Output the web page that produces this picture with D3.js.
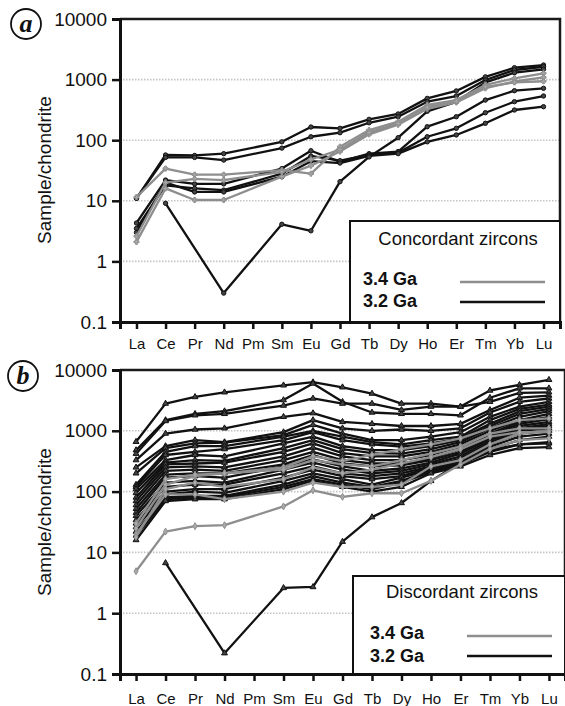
<!DOCTYPE html>
<html>
<head>
<meta charset="utf-8">
<script src="https://cdn.jsdelivr.net/npm/d3@7"></script>
<style>
body { margin: 0; background: #fff; }
svg { display: block; font-family: "Liberation Sans", Arial, sans-serif; }
</style>
</head>
<body>
<div class="chart"></div>
<script>
// Chart size
const width = 565;
const height = 706;

// Rare earth elements (Pm not measured)
const elements = ['La', 'Ce', 'Pr', 'Nd', 'Pm', 'Sm', 'Eu', 'Gd', 'Tb', 'Dy', 'Ho', 'Er', 'Tm', 'Yb', 'Lu'];
const yTicks = [0.1, 1, 10, 100, 1000, 10000];
const yTickLabels = ['0.1', '1', '10', '100', '1000', '10000'];
const gridTicks = [1, 10, 100, 1000];
const ageLabels = ['3.4 Ga', '3.2 Ga'];

// (a) concordant zircons, 3.4 Ga
const concordant34 = [
    [11.5, 34, 27, 27, null, 32, 28, 78, 147, 202, 381, 460, 815, 1050, 1270],
    [2.1, 16, 10.3, 10.3, null, 25, 38, 65, 125, 180, 330, 420, 720, 930, 1090],
    [2.6, 20, 23, 22, null, 30, 48, 70, 135, 190, 350, 440, 760, 900, 940]
];
// (a) concordant zircons, 3.2 Ga
const concordant32 = [
    [11, 57, 56, 60, null, 94, 165, 157, 221, 271, 490, 650, 1110, 1570, 1740],
    [11, 52, 52, 47, null, 74, 114, 133, 194, 244, 432, 536, 985, 1440, 1630],
    [4.3, 22, 19, 19, null, 34, 67, 44, 60, 65, 167, 244, 460, 656, 718],
    [3.5, 18, 16, 15, null, 28, 55, 46, 57, 62, 114, 157, 284, 432, 536],
    [3.0, 20, 14, 14, null, 25, 45, 42, 55, 60, 94, 122, 190, 315, 357],
    [null, 9.1, null, 0.3, null, 4.1, 3.2, 20.7, 53, 110, 300, 430, 900, 1300, 1480]
];

// (b) discordant zircons, 3.4 Ga
const discordant34 = [
    [4.9, 22, 27, 28, null, 57, 105, 82, 94, 94, 150, 280, 500, 700, 750],
    [20, 90, 90, 75, null, 100, 140, 120, 120, 130, 260, 330, 600, 900, 1000],
    [25, 130, 180, 200, null, 250, 380, 320, 400, 500, 600, 750, 1100, 1500, 1600],
    [30, 160, 190, 200, null, 230, 330, 280, 260, 330, 420, 550, 900, 1100, 1100],
    [18, 110, 140, 120, null, 160, 250, 200, 230, 290, 370, 500, 800, 950, 950]
];
// (b) discordant zircons, 3.2 Ga
const discordant32 = [
    [660, 2800, 3600, 4300, null, 5600, 6300, 5200, 4100, 2800, 2800, 2500, 4600, 5700, 6900],
    [480, 1500, 1900, 2100, null, 3200, 6000, 3000, 2000, 1900, 1900, 1800, 3500, 5000, 5000],
    [420, 1450, 1800, 1900, null, 2600, 3400, 2800, 2800, 2200, 2500, 2500, 3000, 4200, 4300],
    [330, 900, 1050, 1100, null, 1700, 1950, 1400, 1300, 1200, 1200, 1300, 2200, 3500, 3800],
    [250, 560, 700, 650, null, 950, 1500, 1100, 1000, 1050, 1000, 1100, 2000, 3000, 3400],
    [200, 520, 620, 640, null, 850, 1250, 900, 700, 700, 800, 950, 1700, 2500, 3000],
    [130, 450, 560, 560, null, 800, 1000, 800, 650, 600, 700, 800, 1500, 2300, 2700],
    [120, 400, 450, 500, null, 700, 950, 700, 600, 550, 620, 750, 1300, 2100, 2500],
    [110, 330, 400, 380, null, 620, 800, 560, 480, 480, 560, 700, 1200, 1900, 2300],
    [95, 300, 330, 320, null, 520, 700, 500, 430, 420, 500, 650, 1100, 1700, 2100],
    [80, 280, 290, 300, null, 450, 620, 430, 380, 380, 450, 600, 1000, 1500, 1900],
    [70, 250, 260, 250, null, 380, 530, 380, 330, 330, 400, 550, 900, 1400, 1700],
    [60, 220, 230, 220, null, 330, 450, 330, 290, 290, 350, 500, 850, 1300, 1550],
    [52, 190, 200, 200, null, 280, 400, 290, 260, 270, 330, 450, 800, 1200, 1400],
    [45, 170, 180, 170, null, 260, 340, 260, 220, 240, 300, 420, 750, 1100, 1300],
    [40, 140, 150, 140, null, 230, 300, 230, 200, 220, 280, 380, 700, 1050, 1200],
    [34, 120, 130, 130, null, 200, 260, 200, 180, 200, 260, 350, 650, 1000, 1100],
    [30, 100, 110, 110, null, 170, 230, 180, 160, 180, 250, 330, 600, 900, 1000],
    [26, 90, 100, 95, null, 150, 200, 160, 130, 170, 230, 320, 550, 800, 900],
    [22, 80, 85, 85, null, 130, 180, 140, 120, 150, 220, 300, 500, 700, 800],
    [19, 75, 80, 80, null, 120, 160, 130, 110, 140, 210, 280, 450, 600, 650],
    [16, 70, 75, 75, null, 110, 150, 120, 100, 120, 200, 260, 400, 520, 540],
    [null, 6.7, null, 0.22, null, 2.6, 2.7, 15, 38, 65, 150, 300, 480, 600, 620]
];

const svg = d3.select('.chart').append('svg')
    .attr('width', width)
    .attr('height', height);

const panels = [
    {
        letter: 'a', title: 'Concordant zircons', old: concordant34, young: concordant32,
        left: 120, top: 19, right: 560, bottom: 322, padding: 0.567, labelPad: 9,
        badge: [26, 24], titleY: 170,
        legend: {x: 350, y: 221, textY: 245, row1: 285, row2: 307, line1: 282, line2: 302, lx0: 460, lx1: 545, tx: 363},
        blackSymbol: d3.symbolCircle, graySymbol: d3.symbolCross
    },
    {
        letter: 'b', title: 'Discordant zircons', old: discordant34, young: discordant32,
        left: 120, top: 370, right: 565, bottom: 674, padding: 0.544, labelPad: 12,
        badge: [23, 376], titleY: 522,
        legend: {x: 353, y: 576, textY: 598, row1: 639, row2: 662, line1: 636, line2: 656, lx0: 467, lx1: 552, tx: 370},
        blackSymbol: d3.symbolTriangle, graySymbol: d3.symbolDiamond
    }
];

const toPoints = values => values
    .map((v, i) => ({el: elements[i], v: v}))
    .filter(d => d.v != null);

panels.forEach(p => {
    const g = svg.append('g');

    const x = d3.scalePoint()
        .domain(elements)
        .range([p.left, p.right])
        .padding(p.padding);
    const y = d3.scaleLog()
        .domain([0.1, 10000])
        .range([p.bottom, p.top]);

    // dotted grid
    g.append('g')
        .selectAll('line')
        .data(gridTicks)
        .join('line')
            .attr('x1', p.left)
            .attr('x2', p.right)
            .attr('y1', d => y(d))
            .attr('y2', d => y(d))
            .attr('stroke', '#c4c4c4')
            .attr('stroke-width', 1.6)
            .attr('stroke-dasharray', '1.5,1.5');

    // frame top and right
    g.append('path')
        .attr('d', `M${p.left},${p.top}H${p.right}V${p.bottom}`)
        .attr('fill', 'none')
        .attr('stroke', '#1a1a1a')
        .attr('stroke-width', 2.5);

    const line = d3.line()
        .x(d => x(d.el))
        .y(d => y(d.v));

    const drawSeries = (series, color, width, symbol, symFill, symSize) => {
        const sg = g.append('g');
        sg.selectAll('path.l')
            .data(series)
            .join('path')
                .attr('class', 'l')
                .attr('d', s => line(toPoints(s)))
                .attr('fill', 'none')
                .attr('stroke', color)
                .attr('stroke-width', width)
                .attr('stroke-linejoin', 'round');
        sg.selectAll('path.m')
            .data(series.flatMap(toPoints))
            .join('path')
                .attr('class', 'm')
                .attr('transform', d => `translate(${x(d.el)},${y(d.v)})`)
                .attr('d', d3.symbol().type(symbol).size(symSize))
                .attr('fill', symFill)
                .attr('stroke', color)
                .attr('stroke-width', 1);
    };

    drawSeries(p.young, '#111', 2.3, p.blackSymbol, '#444', 15);
    drawSeries(p.old, '#8e8e8e', 2.3, p.graySymbol, '#aaa', 14);

    // legend
    const lg = p.legend;
    g.append('rect')
        .attr('x', lg.x)
        .attr('y', lg.y)
        .attr('width', p.right - lg.x)
        .attr('height', p.bottom - lg.y)
        .attr('fill', '#fff')
        .attr('stroke', '#111')
        .attr('stroke-width', 2);
    g.append('text')
        .attr('x', (lg.x + p.right) / 2 + 3)
        .attr('y', lg.textY)
        .attr('text-anchor', 'middle')
        .style('font-size', '18.5px')
        .attr('fill', '#111')
        .text(p.title);
    [['#8e8e8e', lg.row1, lg.line1], ['#111', lg.row2, lg.line2]].forEach((r, i) => {
        g.append('text')
            .attr('x', lg.tx)
            .attr('y', r[1])
            .style('font-size', '18px')
            .style('font-weight', 'bold')
            .attr('fill', '#111')
            .text(ageLabels[i]);
        g.append('line')
            .attr('x1', lg.lx0)
            .attr('x2', lg.lx1)
            .attr('y1', r[2])
            .attr('y2', r[2])
            .attr('stroke', r[0])
            .attr('stroke-width', 2.5);
    });

    // axes
    g.append('g')
        .attr('transform', `translate(${p.left},0)`)
        .call(d3.axisLeft(y).tickValues(yTicks).tickFormat((d, i) => yTickLabels[i]).tickSize(8).tickPadding(5))
        .call(a => a.selectAll('.domain').attr('stroke', '#111').attr('stroke-width', 3))
        .call(a => a.selectAll('.tick line').attr('stroke', '#111').attr('stroke-width', 2.5))
        .call(a => a.selectAll('.tick text')
            .attr('fill', '#111')
            .style('font-size', '19px')
            .style('font-family', '"Liberation Sans", Arial, sans-serif'));

    g.append('g')
        .attr('transform', `translate(0,${p.bottom})`)
        .call(d3.axisBottom(x).tickSize(7).tickPadding(p.labelPad))
        .call(a => a.selectAll('.domain').attr('stroke', '#111').attr('stroke-width', 3))
        .call(a => a.selectAll('.tick line').attr('stroke', '#111').attr('stroke-width', 2.5))
        .call(a => a.selectAll('.tick text')
            .attr('fill', '#111')
            .style('font-size', '15px')
            .style('font-family', '"Liberation Sans", Arial, sans-serif'));

    // y title
    g.append('text')
        .attr('transform', `translate(51,${p.titleY}) rotate(-90)`)
        .attr('text-anchor', 'middle')
        .style('font-size', '19px')
        .attr('fill', '#111')
        .text('Sample/chondrite');

    // panel letter
    g.append('circle')
        .attr('cx', p.badge[0])
        .attr('cy', p.badge[1])
        .attr('r', 15)
        .attr('fill', '#fff')
        .attr('stroke', '#111')
        .attr('stroke-width', 1.8);
    g.append('text')
        .attr('x', p.badge[0])
        .attr('y', p.badge[1] + 8)
        .attr('text-anchor', 'middle')
        .style('font-family', '"Liberation Serif", "DejaVu Serif", serif')
        .style('font-style', 'italic')
        .style('font-weight', 'bold')
        .style('font-size', '26px')
        .attr('fill', '#111')
        .text(p.letter);
});
</script>
</body>
</html>
